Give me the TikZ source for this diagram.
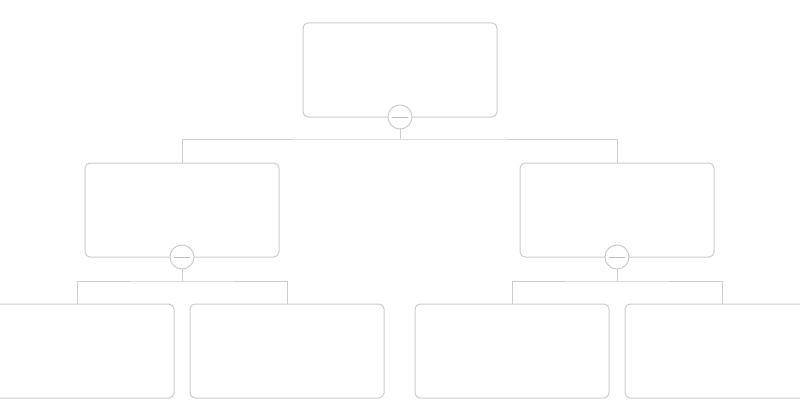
\documentclass[tikz,border=0pt]{standalone}
\usepackage{xcolor}
\usepackage{tikz}
\usetikzlibrary{positioning, calc}

\definecolor{lineGray}{HTML}{CCCCCC}
\definecolor{minusGray}{HTML}{BBBBBB}

\begin{document}
\begin{tikzpicture}[
    x=1pt, y=-1pt,
    card/.style={draw=lineGray, line width=1pt, rounded corners=5pt, minimum width=194pt, minimum height=94pt, fill=white, outer sep=0pt},
    toggle/.style={circle, draw=lineGray, line width=1pt, fill=white, minimum size=24pt, inner sep=0pt, outer sep=0pt},
    link/.style={draw=lineGray, line width=1pt},
    minus/.style={draw=minusGray, line width=1pt}
]
    \useasboundingbox (0,0) rectangle (800,420);

    \node[card] (root) at (400,70) {};
    \node[card, below=46pt of root, xshift=-218pt] (midL) {};
    \node[card, below=46pt of root, xshift=217pt] (midR) {};
    \node[card, below=47pt of midL, xshift=-105pt] (leafA) {};
    \node[card, below=47pt of midL, xshift=105pt] (leafB) {};
    \node[card, below=47pt of midR, xshift=-105pt] (leafC) {};
    \node[card, below=47pt of midR, xshift=105pt] (leafD) {};

    % buses
    \coordinate[below=22pt of root.south] (rootBus);
    \coordinate[below=24pt of midL.south] (midLBus);
    \coordinate[below=24pt of midR.south] (midRBus);

    \draw[link] (root.south) -- (rootBus);
    \draw[link] (midL.north) |- (rootBus) -| (midR.north);
    \draw[link] (midL.south) -- (midLBus);
    \draw[link] (leafA.north) |- (midLBus) -| (leafB.north);
    \draw[link] (midR.south) -- (midRBus);
    \draw[link] (leafC.north) |- (midRBus) -| (leafD.north);

    % collapse toggles
    \node[toggle] (rootToggle) at (root.south) {};
    \node[toggle] (midLToggle) at (midL.south) {};
    \node[toggle] (midRToggle) at (midR.south) {};
    \draw[minus] ([xshift=-8pt]rootToggle.center) -- ([xshift=8pt]rootToggle.center);
    \draw[minus] ([xshift=-8pt]midLToggle.center) -- ([xshift=8pt]midLToggle.center);
    \draw[minus] ([xshift=-8pt]midRToggle.center) -- ([xshift=8pt]midRToggle.center);
\end{tikzpicture}
\end{document}
